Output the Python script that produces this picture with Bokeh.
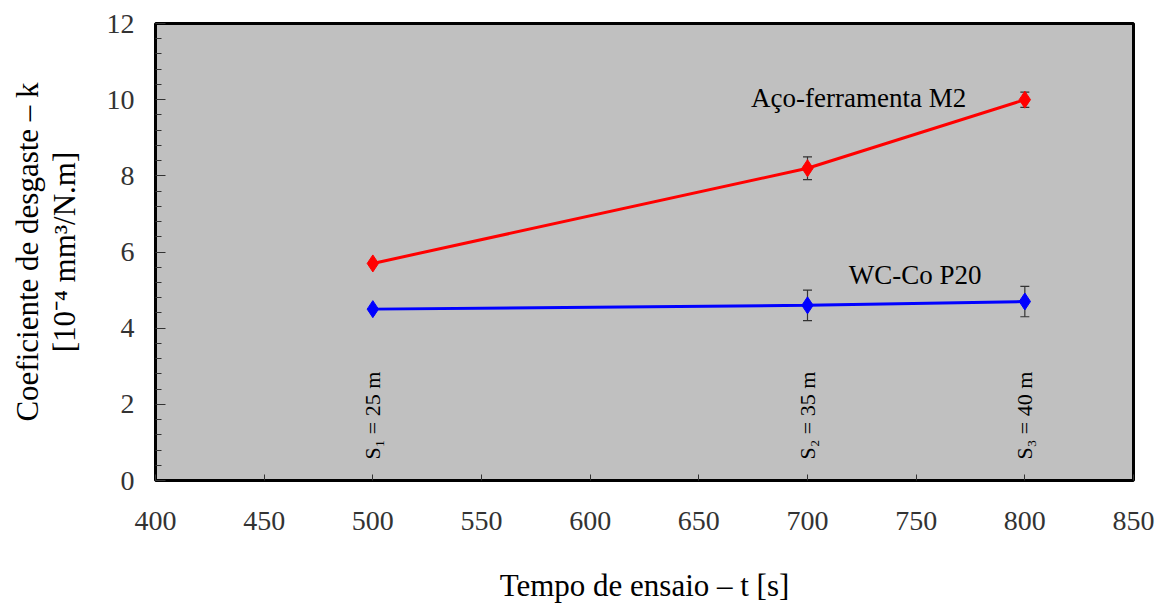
from bokeh.plotting import figure
from bokeh.models import ColumnDataSource, Whisker, TeeHead, Range1d, FixedTicker, Label
from bokeh.core.properties import value
from bokeh.embed import file_html
from bokeh.resources import INLINE
import math

# data
time_s = [500, 700, 800]
m2_k = [5.7, 8.2, 10.0]
m2_err = [0.0, 0.3, 0.2]
wc_k = [4.5, 4.6, 4.7]
wc_err = [0.0, 0.4, 0.4]
dist_labels = ["S\u2081 = 25 m", "S\u2082 = 35 m", "S\u2083 = 40 m"]
x_ticks = [400, 450, 500, 550, 600, 650, 700, 750, 800, 850]
y_ticks = [0, 2, 4, 6, 8, 10, 12]

FONT = "Liberation Serif"

p = figure(width=1160, height=605, output_backend="svg", toolbar_location=None,
           x_range=Range1d(400, 850), y_range=Range1d(0, 12),
           min_border_left=155, min_border_right=27, min_border_top=23, min_border_bottom=124)
p.background_fill_color = "#c0c0c0"
p.border_fill_color = "white"
p.outline_line_color = "black"
p.outline_line_width = 3
p.xgrid.visible = False
p.ygrid.visible = False

for ax in (p.xaxis[0], p.yaxis[0]):
    ax.axis_line_color = None
    ax.major_tick_out = 0
    ax.minor_tick_out = 0
    ax.major_label_text_font = FONT
    ax.major_label_text_font_size = "28px"
    ax.major_label_text_color = "#333333"
    ax.axis_label_text_font = FONT
    ax.axis_label_text_font_size = "31px"
    ax.axis_label_text_font_style = "normal"
    ax.axis_label_text_color = "black"
    ax.major_tick_line_color = "#333333"
    ax.minor_tick_line_color = "#333333"

p.xaxis.ticker = FixedTicker(ticks=x_ticks)
p.xaxis.major_tick_in = 6
p.xaxis.major_label_standoff = 31
p.xaxis.axis_label = "Tempo de ensaio \u2013 t [s]"
p.xaxis.axis_label_standoff = 35

minor_y = [i * 0.4 for i in range(31) if abs((i * 0.4) % 2) > 1e-6 and abs((i * 0.4) % 2 - 2) > 1e-6]
p.yaxis.ticker = FixedTicker(ticks=y_ticks, minor_ticks=minor_y)
p.yaxis.major_tick_in = 10
p.yaxis.minor_tick_in = 6
p.yaxis.major_label_standoff = 21
p.yaxis.axis_label = "Coeficiente de desgaste \u2013 k\n[10\u207b\u2074 mm\u00b3/N.m]"
p.yaxis.axis_label_standoff = 22
p.yaxis.axis_label_text_line_height = 1.05

# error bars
def err_source(xs, ys, es):
    xx, lo, hi = [], [], []
    for x, y, e in zip(xs, ys, es):
        if e > 0:
            xx.append(x); lo.append(y - e); hi.append(y + e)
    return ColumnDataSource(dict(x=xx, lower=lo, upper=hi))

for ys, es in ((m2_k, m2_err), (wc_k, wc_err)):
    w = Whisker(source=err_source(time_s, ys, es), base="x", lower="lower", upper="upper",
                line_color="#333333", line_width=1.2, level="underlay",
                upper_head=TeeHead(size=9, line_color="#333333", line_width=1.2),
                lower_head=TeeHead(size=9, line_color="#333333", line_width=1.2))
    p.add_layout(w)

p.line(time_s, m2_k, line_color="#ff0000", line_width=3)
p.scatter(time_s, m2_k, marker="diamond", size=17, fill_color="#ff0000", line_color="#ff0000")
p.line(time_s, wc_k, line_color="#0000ff", line_width=3)
p.scatter(time_s, wc_k, marker="diamond", size=17, fill_color="#0000ff", line_color="#0000ff")

# annotations
src = ColumnDataSource(dict(x=time_s, y=[0.55] * 3, t=dist_labels))
p.text(x="x", y="y", text="t", source=src, angle=math.pi / 2, text_align="left",
       text_baseline="middle", text_font=value(FONT), text_font_size="22px", text_color="black")

p.add_layout(Label(x=674, y=10.05, text="A\u00e7o-ferramenta M2", text_align="left", text_baseline="middle",
                   text_font=FONT, text_font_size="27px", text_color="black"))
p.add_layout(Label(x=719, y=5.39, text="WC-Co P20", text_align="left", text_baseline="middle",
                   text_font=FONT, text_font_size="27px", text_color="black"))

open("out.html", "w").write(file_html(p, INLINE))
